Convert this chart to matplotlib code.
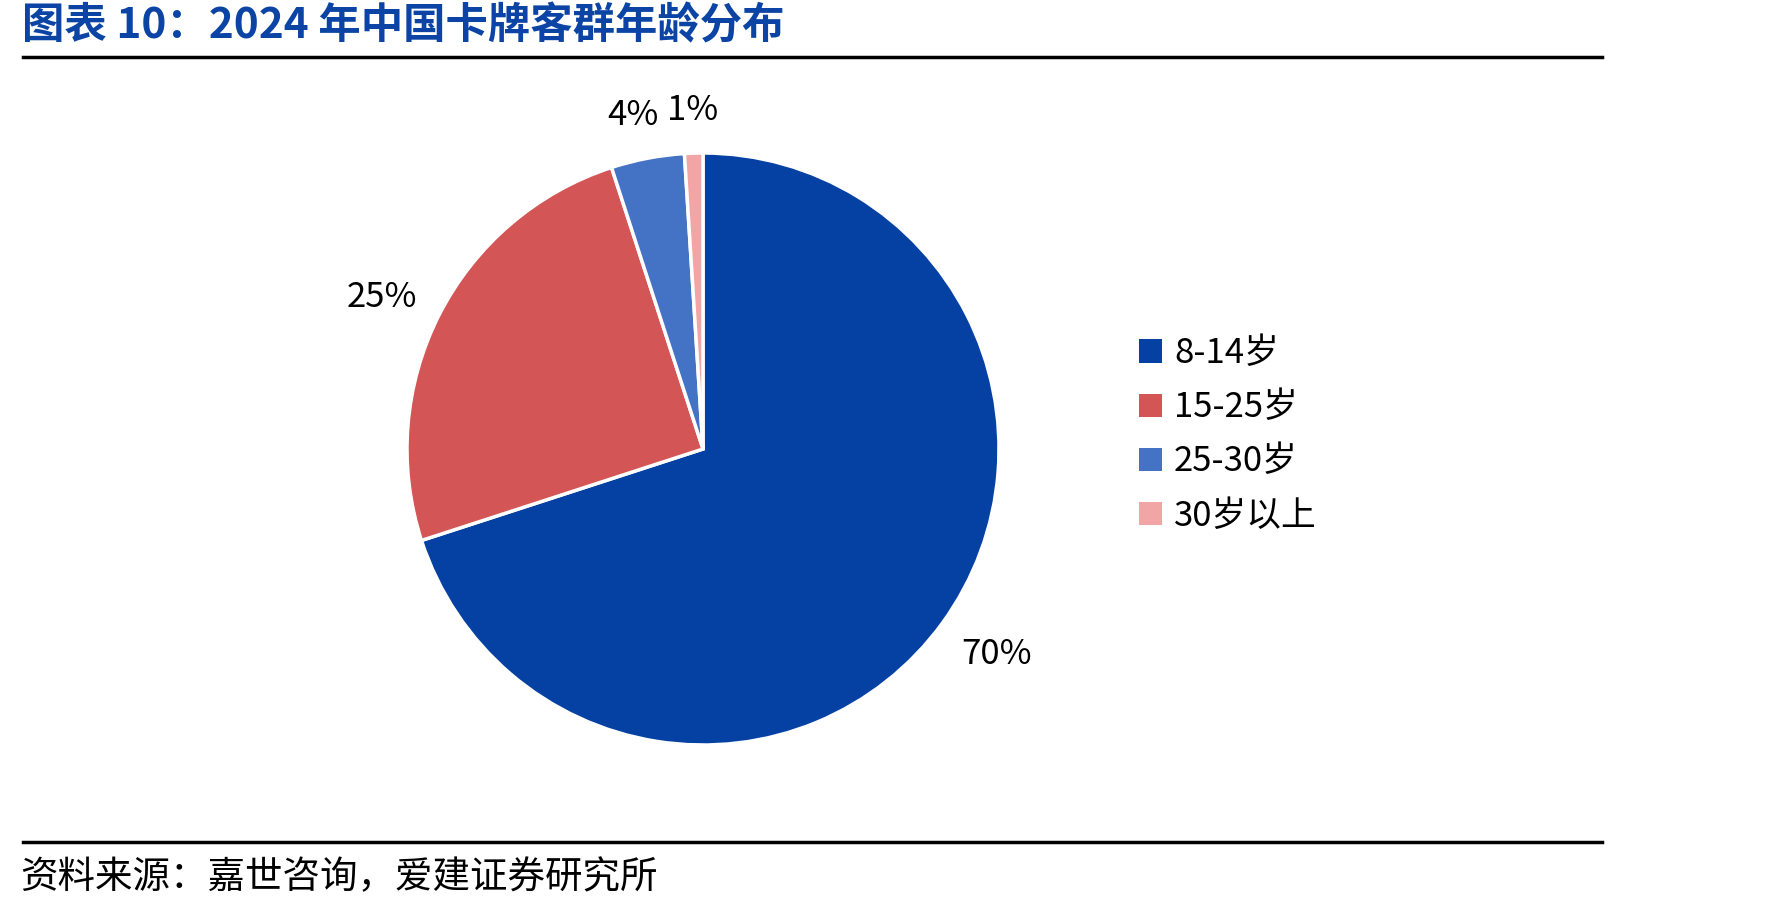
import numpy as np
import matplotlib
matplotlib.use("Agg")
import matplotlib.pyplot as plt
from matplotlib.patches import Patch
from matplotlib.lines import Line2D

plt.rcParams['font.family'] = ['Noto Sans CJK SC', 'DejaVu Sans']

title = "图表 10：2024 年中国卡牌客群年龄分布"
source = "资料来源：嘉世咨询，爱建证券研究所"
categories = ["8-14岁", "15-25岁", "25-30岁", "30岁以上"]
values = [70, 25, 4, 1]
colors = ["#0441A2", "#D35556", "#4472C4", "#F2A5A5"]

W, H = 1784, 910
fig = plt.figure(figsize=(W / 100, H / 100), dpi=100)

# pie axes
cx, cy, r = 703, 449, 296
half = 1.25 * r
ax = fig.add_axes([(cx - half) / W, (H - cy - half) / H, 2 * half / W, 2 * half / H])
wedges, texts, autotexts = ax.pie(
    values, colors=colors, startangle=90, counterclock=False,
    autopct=lambda p: f"{p:.0f}%", pctdistance=1.18,
    wedgeprops=dict(edgecolor="white", linewidth=2.5),
    textprops=dict(fontsize=25, color="black"))
ax.set_xlim(-1.25, 1.25)
ax.set_ylim(-1.25, 1.25)
ax.set_aspect("equal")

# fine-tune label placement (distance, angle offset in degrees)
label_dist = [1.21, 1.20, 1.15, 1.145]
label_dang = [1.0, 1.8, 1.0, 0.0]
for w, t, d, da in zip(wedges, autotexts, label_dist, label_dang):
    ang = np.deg2rad((w.theta1 + w.theta2) / 2 + da)
    t.set_position((d * np.cos(ang), d * np.sin(ang)))

# legend
handles = [Patch(facecolor=c, edgecolor="none") for c in colors]
fig.legend(handles, categories, loc="upper left",
           bbox_to_anchor=(1108 / W, 1 - 305 / H), frameon=False,
           fontsize=25, handlelength=0.65, handleheight=0.65,
           handletextpad=0.35, labelspacing=0.55)

# title and rules
fig.text(22 / W, 1 - 26 / H, title, fontsize=30.5, fontweight="bold",
         color="#0B44A4", va="center", ha="left")
fig.add_artist(Line2D([23 / W, 1602 / W], [1 - 57 / H, 1 - 57 / H],
                      color="black", linewidth=2.5))
fig.add_artist(Line2D([23 / W, 1602 / W], [1 - 842 / H, 1 - 842 / H],
                      color="black", linewidth=2.5))
fig.text(20 / W, 1 - 878 / H, source, fontsize=27, color="black",
         va="center", ha="left")

fig.savefig("out.png", dpi=100)
